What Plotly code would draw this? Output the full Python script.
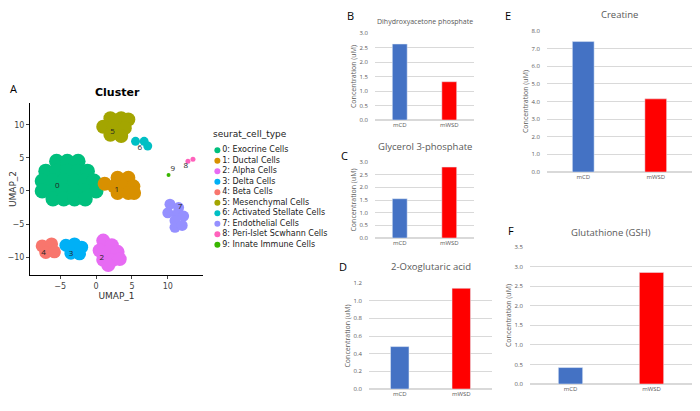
import plotly.graph_objects as go

# UMAP clusters (representative cell positions)
cell_types = ["0: Exocrine Cells", "1: Ductal Cells", "2: Alpha Cells", "3: Delta Cells",
              "4: Beta Cells", "5: Mesenchymal Cells", "6: Activated Stellate Cells",
              "7: Endothelial Cells", "8: Peri-Islet Scwhann Cells", "9: Innate Immune Cells"]
cluster_colors = ["#00BF7D", "#D89000", "#E76BF3", "#00B0F6", "#F8766D",
                  "#A3A500", "#00BFC4", "#9590FF", "#FF62BC", "#39B600"]
cluster_x = [
    [-5.5, -4, -2.5, -7, -5.5, -4, -2.5, -1.2, -7.5, -6, -4.5, -3, -1.5, -0.3,
     -7.5, -6, -4.5, -3, -1.5, 0, -6, -4.5, -3, -1.5],
    [3, 4.5, 2.5, 3.8, 5.2, 3, 4.5, 5.3, 1.2],
    [1, 2.2, 0.5, 1.7, 3, 1, 2.2, 3.3, 1.7],
    [-4.2, -3, -2, -3.5, -2.3],
    [-7.5, -6.2, -7, -5.8],
    [2, 3.5, 4.5, 1, 2.5, 4, 2, 3.5],
    [5.5, 6.7, 7.2],
    [10.3, 11.5, 10, 11.3, 12.2, 11, 11, 12],
    [12.8, 13.5],
    [10.1],
]
cluster_y = [
    [4.5, 4.5, 4.5, 3, 3, 3, 3, 3, 1.5, 1.5, 1.5, 1.5, 1.5, 1.5,
     0, 0, 0, 0, 0, 0, -1.2, -1.2, -1.2, -1.2],
    [2, 2, 0.7, 0.7, 0.7, -0.3, -0.3, -0.3, 1.1],
    [-7.5, -8.2, -9, -9.3, -9.2, -10.4, -10.5, -10.3, -11.2],
    [-8.2, -8, -8.5, -9.4, -9.5],
    [-8.3, -8, -9.3, -9.2],
    [11, 11, 10.8, 9.7, 9.7, 9.5, 8.5, 8.3],
    [7.5, 7.5, 6.8],
    [-2, -2.5, -3.3, -3.5, -3.8, -4.5, -5.5, -5.2],
    [4.5, 4.8],
    [2.4],
]
cluster_size = [15, 14, 14, 13, 13, 14, 9, 11, 5, 4]
label_x = [-5.4, 2.9, 0.8, -3.5, -7.3, 2.3, 6.1, 11.7, 12.5, 10.7]
label_y = [0.8, 0.2, -10.2, -9.6, -9.4, 8.9, 6.5, -2.4, 3.8, 3.3]

# Bar panels
groups = ["mCD", "mWSD"]
bar_colors = ["#4472C4", "#FF0000"]
dhap = [2.62, 1.32]
g3p = [1.55, 2.8]
oxo = [0.48, 1.14]
creatine = [7.4, 4.15]
gsh = [0.42, 2.85]

W, H = 700, 411
OFF = 8  # page body margin


def fx(p):
    return (p - OFF) / W


def fy(p):
    return 1 - (p - OFF) / H


def note(text, x, y, size, color="black", family=None, xanchor="center"):
    fig.add_annotation(text=text, x=fx(x), y=fy(y), xref="paper", yref="paper", showarrow=False,
                       xanchor=xanchor, yanchor="middle",
                       font=dict(size=size, color=color, family=family))


fig = go.Figure()
for i, name in enumerate(cell_types):
    fig.add_trace(go.Scatter(x=cluster_x[i], y=cluster_y[i], mode="markers", name=name,
                             marker=dict(color=cluster_colors[i], size=cluster_size[i], opacity=1),
                             showlegend=False, xaxis="x", yaxis="y"))
fig.add_trace(go.Scatter(x=label_x, y=label_y, mode="text", text=[str(i) for i in range(10)],
                         textfont=dict(size=8, color="#222"), showlegend=False, xaxis="x", yaxis="y"))

# compact legend drawn on its own hidden axis
fig.add_trace(go.Scatter(x=[0] * len(cell_types), y=list(range(len(cell_types))), mode="markers+text",
                         text=cell_types, textposition="middle right",
                         textfont=dict(size=8, family="DejaVu Sans", color="#222"),
                         marker=dict(color=cluster_colors, size=6), showlegend=False,
                         xaxis="x7", yaxis="y7", cliponaxis=False))
fig.layout["xaxis7"] = dict(domain=[fx(214), fx(330)], range=[-0.3, 10], visible=False, anchor="y7",
                            automargin=False)
fig.layout["yaxis7"] = dict(domain=[fy(250), fy(145)], range=[9.5, -0.5], visible=False, anchor="x7",
                            automargin=False)
note("seurat_cell_type", 211, 134, 9, "#222", "DejaVu Sans", xanchor="left")

panels = [  # values, axis index, x domain px, y domain px (top, bottom), range, dtick, title
    (dhap, 2, (375, 474), (33, 120), 3.0, 0.5, "Dihydroxyacetone phosphate", 7, 22, "B", (350, 16)),
    (g3p, 3, (375, 474), (162, 238), 3.0, 0.5, "Glycerol 3-phosphate", 9.5, 146, "C", (344, 155)),
    (oxo, 4, (369, 492), (283, 389), 1.2, 0.2, "2-Oxoglutaric acid", 9.5, 266, "D", (343, 266)),
    (creatine, 5, (547, 692), (31, 172), 8.0, 1.0, "Creatine", 9.5, 15, "E", (508, 16)),
    (gsh, 6, (530, 692), (247, 384), 3.5, 0.5, "Glutathione (GSH)", 9.5, 232, "F", (511, 230)),
]
for vals, k, xd, yd, top, dt, title, tsize, ty, letter, lpos in panels:
    fig.add_trace(go.Bar(x=groups, y=vals, marker_color=bar_colors, width=0.3, showlegend=False,
                         xaxis=f"x{k}", yaxis=f"y{k}"))
    fig.layout[f"xaxis{k}"] = dict(domain=[fx(xd[0]), fx(xd[1])], anchor=f"y{k}", showline=False,
                                   tickfont=dict(size=6, color="#595959"), ticks="", automargin=False)
    fig.layout[f"yaxis{k}"] = dict(domain=[fy(yd[1]), fy(yd[0])], anchor=f"x{k}",
                                   range=[0, top], dtick=dt, tickformat=".1f", showgrid=True,
                                   gridcolor="#D9D9D9", zeroline=True, zerolinecolor="#D9D9D9",
                                   tickfont=dict(size=6, color="#595959"), automargin=False,
                                   ticklabelstandoff=6,
                                   title=dict(text="Concentration (uM)", font=dict(size=7, color="#595959"),
                                              standoff=2))
    note(title, (xd[0] + xd[1]) / 2, ty, tsize, "#595959")
    note(letter, lpos[0], lpos[1], 11)

note("A", 8, 88, 11, xanchor="left")
note("<b>Cluster</b>", 117, 93, 11, family="DejaVu Sans")

fig.update_layout(
    width=W, height=H, margin=dict(l=0, r=0, t=0, b=0, autoexpand=False),
    paper_bgcolor="white", plot_bgcolor="white",
    font=dict(family="Open Sans", color="#333"),
    showlegend=False,
    xaxis=dict(domain=[fx(30), fx(203)], range=[-9.2, 14.9], showgrid=False, zeroline=False,
               showline=True, linecolor="black", ticks="outside", ticklen=3, tickvals=[-5, 0, 5, 10],
               tickfont=dict(size=8, family="DejaVu Sans", color="#444"), automargin=False,
               title=dict(text="UMAP_1", font=dict(size=9, family="DejaVu Sans"), standoff=2)),
    yaxis=dict(domain=[fy(275), fy(103)], range=[-12.7, 13.3], showgrid=False, zeroline=False,
               showline=True, linecolor="black", ticks="outside", ticklen=3, tickvals=[-10, -5, 0, 5, 10],
               tickfont=dict(size=8, family="DejaVu Sans", color="#444"), automargin=False,
               title=dict(text="UMAP_2", font=dict(size=9, family="DejaVu Sans"), standoff=2)),
)

fig.write_html("out.html")
